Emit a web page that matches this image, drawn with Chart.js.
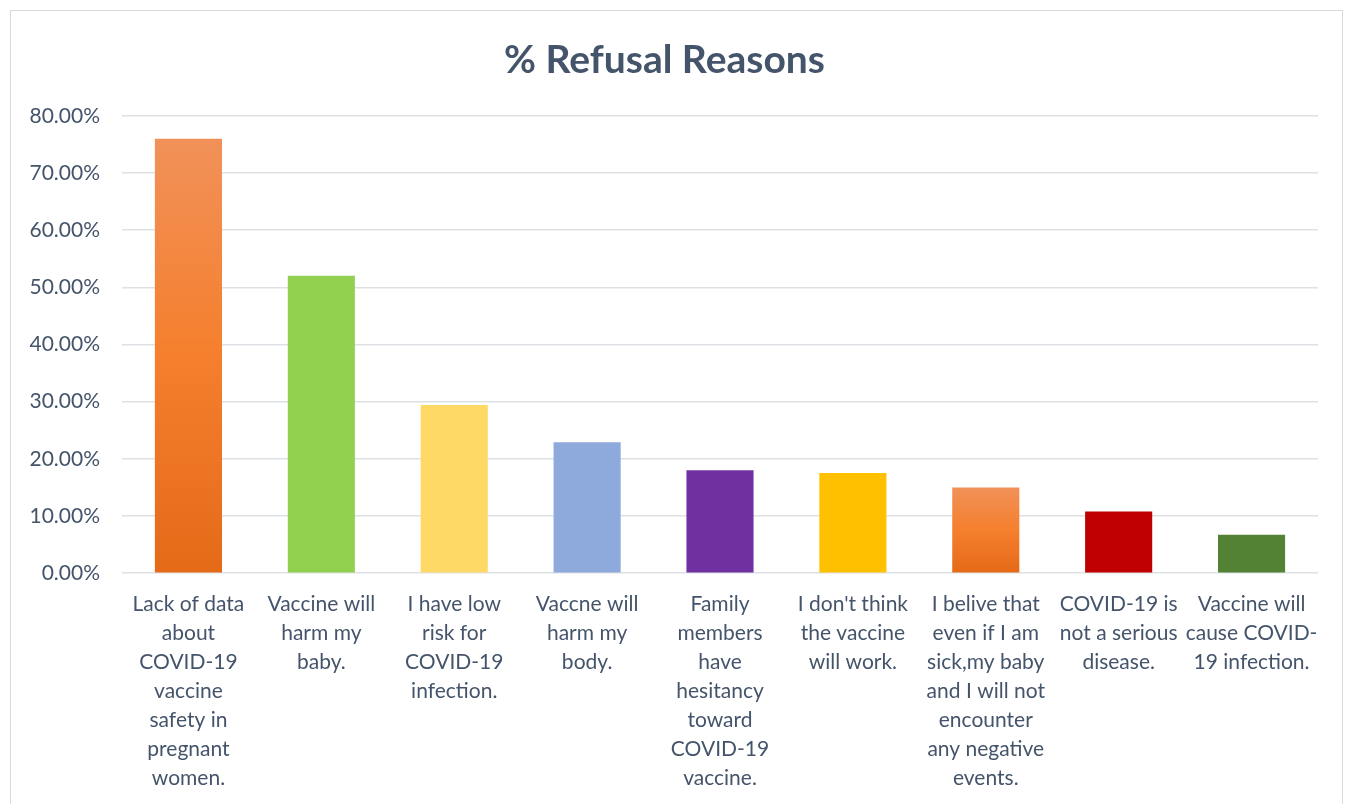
<!DOCTYPE html>
<html>
<head>
<meta charset="utf-8">
<script src="https://cdn.jsdelivr.net/npm/chart.js@4.4.0/dist/chart.umd.min.js"></script>
<style>
  body { margin: 0; background: #fff; }
  #box { position: absolute; left: 10px; top: 10px; width: 1331px; height: 800px; border: 1px solid #D9D9D9; background: #fff; }
</style>
</head>
<body>
<div id="box"><canvas id="chart"></canvas></div>
<script>
// ---------- DATA ----------
const categories = [
  ['Lack of data', 'about', 'COVID-19', 'vaccine', 'safety in', 'pregnant', 'women.'],
  ['Vaccine will', 'harm my', 'baby.'],
  ['I have low', 'risk for', 'COVID-19', 'infection.'],
  ['Vaccne will', 'harm my', 'body.'],
  ['Family', 'members', 'have', 'hesitancy', 'toward', 'COVID-19', 'vaccine.'],
  ["I don't think", 'the vaccine', 'will work.'],
  ['I belive that', 'even if I am', 'sick,my baby', 'and I will not', 'encounter', 'any negative', 'events.'],
  ['COVID-19 is', 'not a serious', 'disease.'],
  ['Vaccine will', 'cause COVID-', '19 infection.']
];
const refusalPct = [76.0, 52.0, 29.4, 22.9, 18.0, 17.5, 15.0, 10.8, 6.7];
const barColors  = ['orange', '#92D050', '#FFD966', '#8EA9DB', '#7030A0', '#FFC000', 'orange', '#C00000', '#548235'];
const yTicks     = [0, 10, 20, 30, 40, 50, 60, 70, 80];

const textColor = '#44546A';
const gridColor = '#DDE1E6';

// orange bars get a top-to-bottom gradient over their own height
function barFill(ctx) {
  const c = barColors[ctx.dataIndex];
  if (c !== 'orange') return c;
  const chart = ctx.chart;
  const ys = chart.scales && chart.scales.y;
  if (!chart.chartArea || !ys) return '#F47F30';
  const top = ys.getPixelForValue(refusalPct[ctx.dataIndex]);
  const bot = ys.getPixelForValue(0);
  const g = chart.ctx.createLinearGradient(0, top, 0, bot);
  g.addColorStop(0, '#F19159');
  g.addColorStop(0.5, '#F57F2D');
  g.addColorStop(1, '#E46A18');
  return g;
}

new Chart(document.getElementById('chart'), {
  type: 'bar',
  data: {
    labels: categories,
    datasets: [{
      label: '% Refusal Reasons',
      data: refusalPct,
      backgroundColor: barFill,
      borderWidth: 0,
      categoryPercentage: 1,
      barPercentage: 0.505
    }]
  },
  options: {
    responsive: true,
    maintainAspectRatio: false,
    animation: false,
    layout: { padding: { top: 20, right: 24, bottom: 9, left: 0 } },
    plugins: {
      legend: { display: false },
      tooltip: { enabled: false },
      title: {
        display: true,
        text: '% Refusal Reasons',
        color: textColor,
        font: { family: 'Lato', size: 39, weight: 'bold' },
        padding: { top: 6, bottom: 32 }
      }
    },
    scales: {
      x: {
        grid: { display: false },
        border: { display: false },
        ticks: {
          color: textColor,
          font: { family: 'Lato', size: 21, lineHeight: 1.38 },
          padding: 9,
          maxRotation: 0,
          autoSkip: false
        }
      },
      y: {
        min: 0,
        max: 80,
        afterFit: function (scale) { scale.width = 111; },
        afterBuildTicks: function (scale) { scale.ticks = yTicks.map(v => ({ value: v })); },
        grid: { color: gridColor, lineWidth: 1.5, drawTicks: false },
        border: { display: false },
        ticks: {
          color: textColor,
          font: { family: 'Lato', size: 21 },
          padding: 22,
          callback: v => v.toFixed(2) + '%'
        }
      }
    }
  }
});
</script>
</body>
</html>
